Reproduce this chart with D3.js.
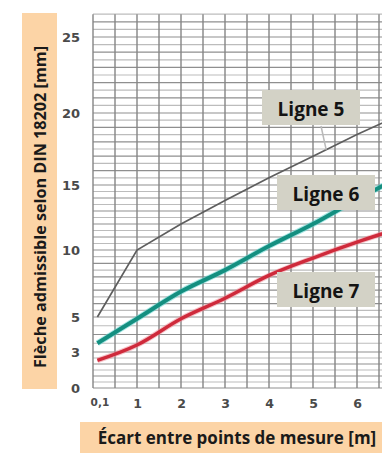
<!DOCTYPE html>
<html>
<head>
<meta charset="utf-8">
<script src="https://cdn.jsdelivr.net/npm/d3@7"></script>
<style>
  html, body { margin: 0; padding: 0; background: #ffffff; }
  svg { display: block; }
</style>
</head>
<body>
<svg id="chart" width="382" height="453"></svg>
<script>
// ---- data ----
const xValues = [0.1, 1, 2, 3, 4, 5, 6, 7];
const ligne5 = [5.0, 10.0, 12.0, 13.8, 15.5, 17.0, 18.5, 19.9];
const ligne6 = [3.5, 4.9, 6.9, 8.5, 10.3, 12.0, 13.9, 15.6];
const ligne7 = [2.3, 3.4, 4.9, 6.4, 8.1, 9.4, 10.6, 11.7];
const seriesNames = ["Ligne 5", "Ligne 6", "Ligne 7"];
const xTickValues = [0.1, 1, 2, 3, 4, 5, 6];
const xTickLabels = ["0,1", "1", "2", "3", "4", "5", "6"];
const yTickValues = [0, 3, 5, 10, 15, 20, 25];
const yTitle = "Flèche admissible selon DIN 18202 [mm]";
const xTitle = "Écart entre points de mesure [m]";

// ---- layout ----
const svg = d3.select("#chart");
const W = 382, H = 453;
const plotLeft = 93, plotBottom = 388;

const x = d3.scaleLinear().domain([0, 7]).range([plotLeft, 401]);
const y = d3.scaleLinear()
  .domain([0, 3, 5, 10, 15, 20, 25])
  .range([388, 352, 317, 250, 185, 113, 37]);
const yTop = 26.5;

// axis title boxes
svg.append("rect").attr("x", 22).attr("y", 13).attr("width", 35).attr("height", 376)
  .attr("fill", "#fcd4a6");
svg.append("text")
  .attr("transform", `translate(45.5,${(13 + 389) / 2 + 6}) rotate(-90)`)
  .attr("text-anchor", "middle")
  .attr("font-family", "'Open Sans', sans-serif").attr("font-weight", "bold")
  .attr("font-size", 16.2).attr("fill", "#1a1a1a")
  .text(yTitle);

svg.append("rect").attr("x", 80).attr("y", 422).attr("width", W - 80).attr("height", H - 422)
  .attr("fill", "#fcd4a6");
svg.append("text")
  .attr("x", 237).attr("y", 444)
  .attr("text-anchor", "middle")
  .attr("font-family", "'Open Sans', sans-serif").attr("font-weight", "bold")
  .attr("font-size", 17).attr("fill", "#1a1a1a")
  .text(xTitle);

// grid
const grid = svg.append("g");
const hLines = d3.range(0, yTop + 0.01, 0.5);
grid.selectAll("line.h").data(hLines).join("line")
  .attr("x1", plotLeft).attr("x2", W)
  .attr("y1", d => y(d)).attr("y2", d => y(d))
  .attr("stroke", d => (d % 1 === 0) ? "#8f8f8f" : "#bcbcbc")
  .attr("stroke-width", 1.2);
const vLines = d3.range(0, 7.01, 0.5);
grid.selectAll("line.v").data(vLines).join("line")
  .attr("x1", d => x(d)).attr("x2", d => x(d))
  .attr("y1", y(yTop)).attr("y2", plotBottom)
  .attr("stroke", "#858585")
  .attr("stroke-width", 1.4);

// axes labels
const yAxis = svg.append("g")
  .attr("transform", `translate(80,0)`)
  .call(d3.axisLeft(y).tickValues(yTickValues).tickSize(0).tickPadding(0).tickFormat(d3.format("d")));
yAxis.select(".domain").remove();
yAxis.selectAll("text")
  .attr("font-family", "'DejaVu Sans', sans-serif").attr("font-weight", "bold")
  .attr("font-size", 13).attr("fill", "#4a4a4a");

const xAxis = svg.append("g")
  .attr("transform", `translate(0,399)`)
  .call(d3.axisBottom(x).tickValues(xTickValues).tickSize(0).tickPadding(0)
    .tickFormat((d, i) => xTickLabels[i]));
xAxis.select(".domain").remove();
xAxis.selectAll("text")
  .attr("font-family", "'DejaVu Sans', sans-serif").attr("font-weight", "bold")
  .attr("font-size", 12.5).attr("fill", "#4a4a4a");
xAxis.selectAll(".tick").filter(d => d === 0.1).select("text").attr("font-size", 10.5).attr("dx", 2);

// lines
const pts = vals => xValues.map((d, i) => [d, vals[i]]);
const lineLin = d3.line().x(d => x(d[0])).y(d => y(d[1]));
const lineSmooth = d3.line().x(d => x(d[0])).y(d => y(d[1])).curve(d3.curveMonotoneX);

const lines = svg.append("g");
lines.append("path").attr("d", lineLin(pts(ligne5)))
  .attr("fill", "none").attr("stroke", "#5e5e5e").attr("stroke-width", 1.7);

lines.append("path").attr("d", lineSmooth(pts(ligne6)))
  .attr("fill", "none").attr("stroke", "#5fd3cf").attr("stroke-width", 6).attr("stroke-opacity", 0.55);
lines.append("path").attr("d", lineSmooth(pts(ligne6)))
  .attr("fill", "none").attr("stroke", "#148f80").attr("stroke-width", 4);

lines.append("path").attr("d", lineSmooth(pts(ligne7)))
  .attr("fill", "none").attr("stroke", "#f08a96").attr("stroke-width", 5.5).attr("stroke-opacity", 0.5);
lines.append("path").attr("d", lineSmooth(pts(ligne7)))
  .attr("fill", "none").attr("stroke", "#cf2a3b").attr("stroke-width", 3.5);

// leader line for Ligne 5
svg.append("line").attr("x1", 321).attr("y1", 126).attr("x2", x(5.3)).attr("y2", y(17.45))
  .attr("stroke", "#b9b9b9").attr("stroke-width", 1.5);

// label boxes
const boxes = [
  { name: seriesNames[0], bx: 262, by: 90 },
  { name: seriesNames[1], bx: 277, by: 175 },
  { name: seriesNames[2], bx: 277, by: 272 }
];
const lb = svg.append("g").selectAll("g").data(boxes).join("g")
  .attr("transform", d => `translate(${d.bx},${d.by})`);
lb.append("rect").attr("width", 98).attr("height", 35).attr("fill", "#d3d2c6");
lb.append("text").attr("x", 49).attr("y", 25.5).attr("text-anchor", "middle")
  .attr("font-family", "'Open Sans', sans-serif").attr("font-weight", "bold")
  .attr("font-size", 19).attr("fill", "#141414")
  .text(d => d.name);
</script>
</body>
</html>
